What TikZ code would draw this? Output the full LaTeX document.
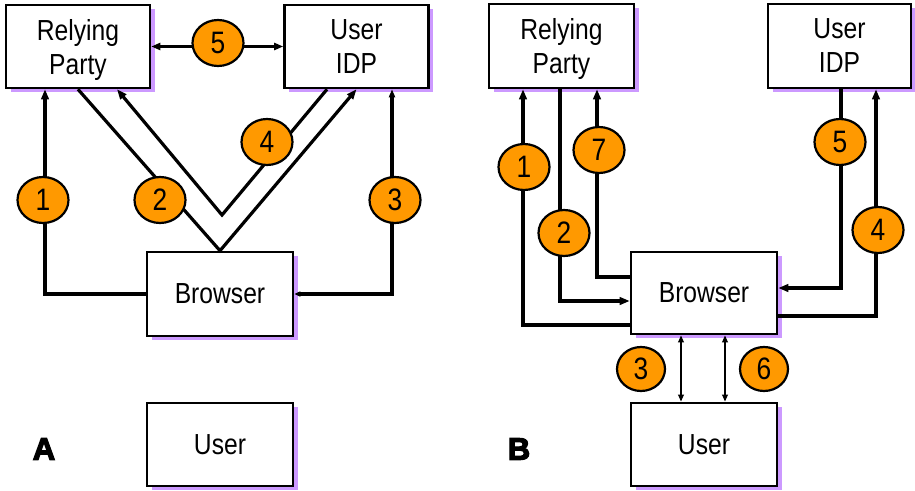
\documentclass[tikz,border=0pt]{standalone}
\usepackage{fontspec}
\setmainfont[FakeStretch=0.85]{Liberation Sans}
\newfontfamily\panelfont[FakeBold=4]{Liberation Sans}
\usepackage{tikz}
\usetikzlibrary{arrows.meta,shapes.geometric,shadows}
\definecolor{lavender}{RGB}{204,153,255}
\definecolor{badge}{RGB}{255,153,0}

\begin{document}
\begin{tikzpicture}[x=1pt, y=-1pt,
	box/.style={draw, line width=2.6pt, fill=white, minimum width=144pt, minimum height=83pt, inner sep=0pt, align=center, font=\fontsize{29}{34}\selectfont, drop shadow={shadow xshift=4.5pt, shadow yshift=-4pt, fill=lavender, opacity=1}},
	twoline/.style={text depth=-2pt},
	num/.style={ellipse, draw, line width=2.2pt, fill=badge, minimum width=51pt, minimum height=46pt, inner sep=0pt, font=\fontsize{31}{31}\selectfont},
	conn/.style={line width=3.2pt},
	thin/.style={line width=2.2pt},
	head/.style={-{Triangle[length=10pt,width=7.5pt]}},
	small/.style={{Triangle[length=7pt,width=5.5pt]}-{Triangle[length=7pt,width=5.5pt]}},
	panel/.style={font=\panelfont\bfseries\fontsize{31}{31}\selectfont}]
	\useasboundingbox (0,0) rectangle (915,490);
	% panel A
	\node[box, twoline] (rpA) at (78,46.5) {Relying\\Party};
	\node[box, twoline] (idpA) at (356.5,46.5) {User\\IDP};
	\node[box, minimum width=146pt, minimum height=84pt] (brA) at (220,294) {Browser};
	\node[box, minimum width=146pt] (usA) at (220,444.5) {User};
	\coordinate (vtip) at (222,215);
	\draw[conn, head] (brA.west) -| ([xshift=-33pt]rpA.south);
	\draw[conn, head] (rpA.south) -- (brA.north) -- (idpA.south);
	\draw[conn, head] ([xshift=-29.5pt]idpA.south) -- (vtip) -- ([xshift=39pt]rpA.south);
	\draw[conn, {Triangle[length=6pt,width=5pt]}-{Triangle[length=8pt,width=6pt]}] (brA.east) -| ([xshift=35.5pt]idpA.south);
	\draw[conn, {Triangle[length=9pt,width=7pt]}-{Triangle[length=9pt,width=7pt]}] (rpA.east) -- (idpA.west);
	\node[num] (a1) at (43,200) {1};
	\node[num] (a2) at (160,200) {2};
	\node[num] (a3) at (395,200) {3};
	\node[num] (a4) at (267,142) {4};
	\node[num] (a5) at (218,43) {5};
	\node[panel] (labA) at (44,449) {A};
	% panel B
	\node[box, twoline, minimum width=145pt, minimum height=84pt] (rpB) at (561.5,46) {Relying\\Party};
	\node[box, twoline, minimum width=143pt, minimum height=84pt] (idpB) at (839.5,46) {User\\IDP};
	\node[box, minimum width=146pt, minimum height=82pt] (brB) at (704,293) {Browser};
	\node[box, minimum width=146pt] (usB) at (704,444.5) {User};
	\draw[conn, head] ([yshift=-32pt]brB.west) -| ([xshift=-38.5pt]rpB.south);
	\draw[conn, head] ([xshift=-1.5pt]rpB.south) |- ([yshift=-8pt]brB.west);
	\draw[conn, head] ([yshift=16pt]brB.west) -| ([xshift=35.5pt]rpB.south);
	\draw[conn, head] ([xshift=1.5pt]idpB.south) |- ([yshift=5pt]brB.east);
	\draw[conn, head] ([yshift=-23pt]brB.east) -| ([xshift=36.5pt]idpB.south);
	\draw[thin, small] ([xshift=-23pt]brB.south) -- ([xshift=-23pt]usB.north);
	\draw[thin, small] ([xshift=21pt]brB.south) -- ([xshift=21pt]usB.north);
	\node[num] (b1) at (524,167) {1};
	\node[num] (b2) at (564,233) {2};
	\node[num] (b7) at (599,150) {7};
	\node[num] (b5) at (840,142) {5};
	\node[num] (b4) at (878,230) {4};
	\node[num, minimum width=48pt, minimum height=44pt] (b3) at (641,369) {3};
	\node[num, minimum width=48pt, minimum height=44pt] (b6) at (764,369) {6};
	\node[panel] (labB) at (519,449) {B};
\end{tikzpicture}
\end{document}
